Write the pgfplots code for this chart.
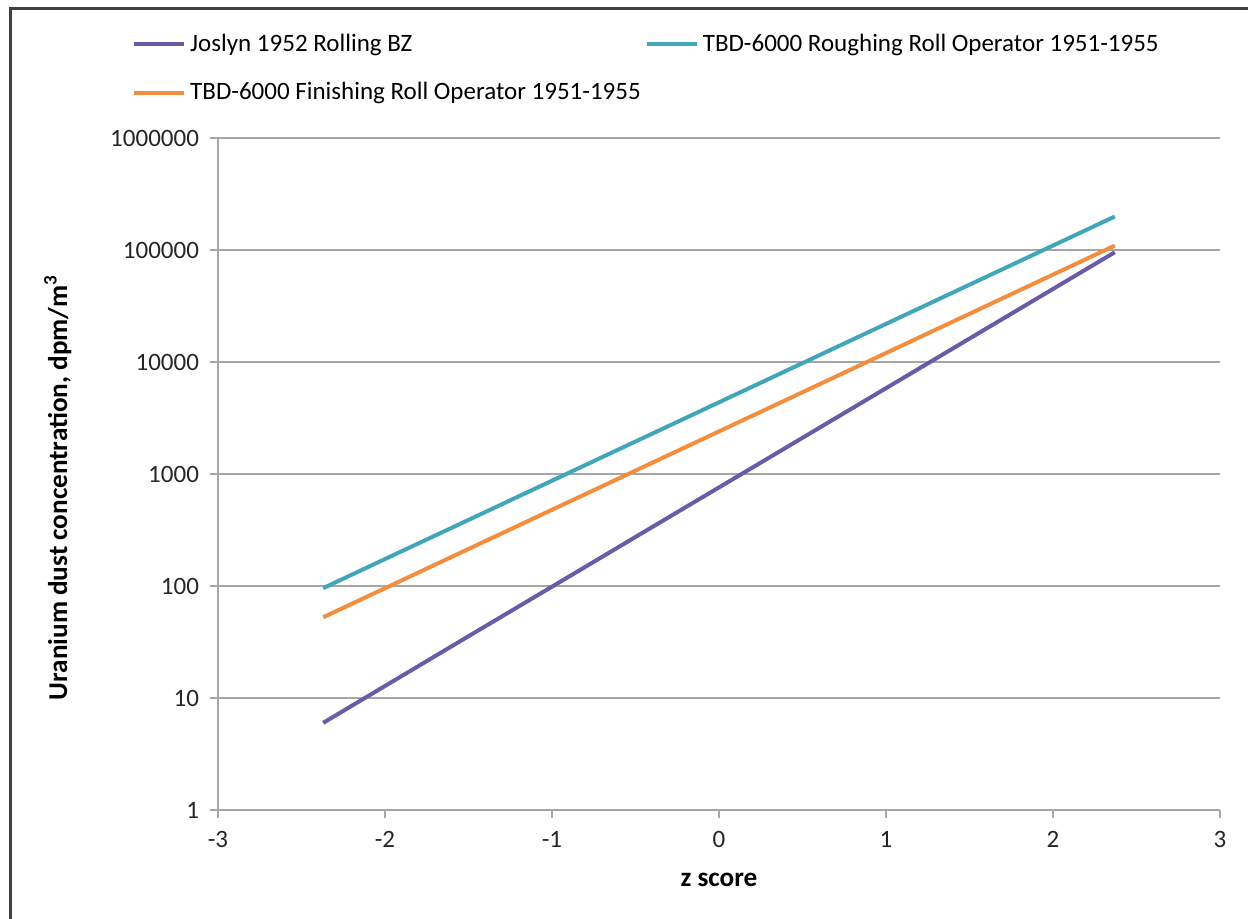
\documentclass[border=0pt]{standalone}
\usepackage{pgfplots}
\pgfplotsset{compat=1.18}
\usepackage{fontspec}
\setmainfont{Carlito}
\definecolor{cpurple}{HTML}{6B5BA6}
\definecolor{cteal}{HTML}{42A5BA}
\definecolor{corange}{HTML}{F28E3E}
\definecolor{cgrid}{HTML}{A6A6A6}
\begin{document}
\begin{tikzpicture}
\begin{axis}[
  at={(109pt,-405pt)}, anchor=south west,
  scale only axis, width=501pt, height=336pt,
  xmin=-3, xmax=3, ymin=1, ymax=1000000,
  ymode=log,
  xtick={-3,-2,-1,0,1,2,3},
  ytick={1,10,100,1000,10000,100000,1000000},
  yticklabels={1,10,100,1000,10000,100000,1000000},
  minor tick length=0pt,
  minor tick style={draw=none},
  /pgf/number format/assume math mode=true,
  axis lines*=left,
  axis line style={cgrid, line width=0.8pt},
  tick style={cgrid, line width=0.8pt},
  major tick length=4pt,
  tick align=outside,
  ymajorgrids,
  grid style={cgrid, line width=0.8pt},
  ticklabel style={font=\fontsize{12.5}{14}\selectfont, text=black!85},
  yticklabel style={xshift=-2pt},
  xticklabel style={yshift=-3pt},
  xlabel={\fontsize{13.6}{16}\selectfont\bfseries z score},
  ylabel={\fontsize{13.6}{16}\selectfont\bfseries Uranium dust concentration, dpm/m\textsuperscript{3}},
  every axis x label/.style={at={(axis description cs:0.5,-0.104)}, anchor=center},
  every axis y label/.style={at={(axis description cs:-0.16,0.48)}, rotate=90, anchor=center},
  legend columns=2,
  legend style={draw=none, fill=none, at={(axis description cs:-0.086,1.1034)}, anchor=west,
    font=\fontsize{12.5}{14}\selectfont, row sep=10pt, inner sep=0pt,
    /tikz/every even column/.append style={column sep=0pt}},
  legend cell align=left,
  legend image code/.code={\draw[#1, line width=2pt] (0pt,0pt) -- (25pt,0pt);},
]
\addplot[cpurple, line width=2pt] coordinates {
(-2.37,6.0) (-2.0,12.8) (-1.5,35.6) (-1.0,98.6) (-0.5,274) (0,759) (0.5,2104) (1.0,5834) (1.5,16180) (2.0,44870) (2.37,95500)};
\addlegendentry{Joslyn 1952 Rolling BZ}
\addplot[cteal, line width=2pt] coordinates {
(-2.37,95.7) (-2.0,174) (-1.5,389) (-1.0,871) (-0.5,1950) (0,4365) (0.5,9772) (1.0,21880) (1.5,48980) (2.0,109600) (2.37,199000)};
\addlegendentry{TBD-6000 Roughing Roll Operator 1951-1955}
\addplot[corange, line width=2pt] coordinates {
(-2.37,52.6) (-2.0,95.5) (-1.5,214) (-1.0,479) (-0.5,1072) (0,2399) (0.5,5370) (1.0,12020) (1.5,26920) (2.0,60260) (2.37,109400)};
\addlegendentry{TBD-6000 Finishing Roll Operator 1951-1955}
\end{axis}
\draw[black!75, line width=1.5pt] (5pt,-470pt) -- (5pt,-4.5pt) -- (640pt,-4.5pt);
\pgfresetboundingbox
\useasboundingbox (0,0) rectangle (624pt,-459.5pt);
\end{tikzpicture}
\end{document}
